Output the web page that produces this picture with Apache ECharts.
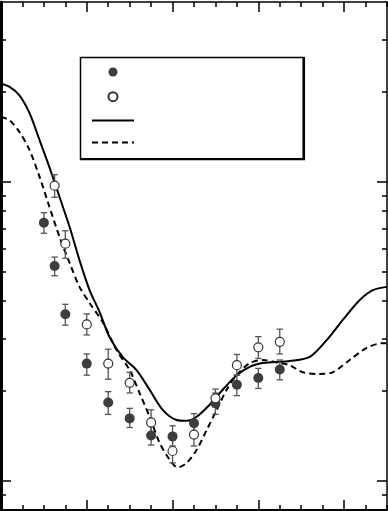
<!DOCTYPE html>
<html><head><meta charset="utf-8">
<script src="https://cdn.jsdelivr.net/npm/echarts@6/dist/echarts.min.js"></script>
<style>html,body{margin:0;padding:0;background:#fff}#c{width:388px;height:511px}</style>
</head><body><div id="c"></div>
<script>
// ---- data (angle in degrees, value on log scale) ----
const filledAngles = [20, 25, 30, 40, 50, 60, 70, 80, 90, 100, 110, 120, 130];
const filledVals   = [7.31, 5.24, 3.61, 2.47, 1.83, 1.62, 1.42, 1.41, 1.56, 1.82, 2.10, 2.21, 2.36];
const filledLow    = [6.74, 4.86, 3.32, 2.26, 1.67, 1.51, 1.32, 1.31, 1.44, 1.67, 1.93, 2.04, 2.18];
const filledHigh   = [7.90, 5.61, 3.90, 2.66, 1.99, 1.75, 1.52, 1.53, 1.68, 1.97, 2.26, 2.38, 2.54];

const openAngles = [25, 30, 40, 50, 60, 70, 80, 90, 100, 110, 120, 130];
const openVals   = [9.72, 6.22, 3.34, 2.47, 2.13, 1.57, 1.26, 1.43, 1.89, 2.44, 2.80, 2.92];
const openLow    = [8.89, 5.56, 3.08, 2.19, 1.97, 1.43, 1.15, 1.31, 1.77, 2.26, 2.57, 2.66];
const openHigh   = [10.58, 6.87, 3.62, 2.76, 2.31, 1.73, 1.37, 1.55, 2.03, 2.65, 3.04, 3.22];

const solidAngles = [0, 4, 8.6, 13.3, 18, 22.6, 27.3, 32, 36.6, 41.3, 46, 50.6, 56.7, 63.2, 69.3, 75.4, 81.9, 86.6, 91.2, 97.3, 103.4, 109.9, 116, 122, 127.6, 134.6, 144, 152.4, 159.4, 167.3, 173.4, 180];
const solidVals   = [21.3, 20.8, 19.5, 17.0, 13.8, 11.2, 8.91, 7.07, 5.48, 4.35, 3.67, 3.03, 2.60, 2.35, 2.02, 1.73, 1.60, 1.59, 1.64, 1.80, 2.02, 2.26, 2.41, 2.48, 2.50, 2.52, 2.60, 2.99, 3.46, 4.03, 4.35, 4.46];

const dashAngles = [0, 4, 8.6, 13.3, 18, 22.6, 27.3, 32, 36.6, 41.3, 47.4, 53.9, 60, 64.6, 69.3, 74, 78.6, 82.4, 86.6, 91.2, 95.9, 100.6, 105.2, 109.9, 116, 122, 129.9, 134.6, 140.7, 148.6, 154.7, 162.6, 170.6, 178, 180];
const dashVals   = [16.5, 16.1, 14.7, 12.8, 10.4, 8.25, 6.55, 5.36, 4.46, 3.94, 3.40, 2.74, 2.35, 1.97, 1.64, 1.34, 1.18, 1.11, 1.15, 1.27, 1.48, 1.73, 2.02, 2.26, 2.48, 2.54, 2.48, 2.44, 2.31, 2.28, 2.31, 2.54, 2.79, 2.89, 2.89];

const xMajorTicks = [0, 40, 80, 120, 160];
const yMajorTicks = [1, 10];
const yMinorTicks = [0.9, 2, 3, 4, 5, 6, 7, 8, 9, 20, 30];
const seriesNames = ['exp-filled', 'exp-open', 'calc-solid', 'calc-dashed'];

// ---- chart ----
const chart = echarts.init(document.getElementById('c'), null, { renderer: 'canvas' });
const yMin = 0.8, yMax = 40, xMin = 0, xMax = 180;
const L = Math.log10;

function xAx(pos, len, custom, lineW) {
  const tick = { show: true, inside: true, length: len, lineStyle: { color: '#000', width: 1.5 } };
  if (custom) tick.customValues = custom;
  return {
    type: 'value', position: pos, min: xMin, max: xMax, interval: 10,
    axisLine: { show: lineW > 0, onZero: false, lineStyle: { color: '#000', width: lineW } },
    axisTick: tick, axisLabel: { show: false }, splitLine: { show: false }
  };
}
function yTickAx(pos, len, vals, lineW) {
  return {
    type: 'value', position: pos, min: L(yMin), max: L(yMax),
    axisLine: { show: lineW > 0, onZero: false, lineStyle: { color: '#000', width: lineW } },
    axisTick: { show: true, inside: true, length: len, customValues: vals.map(L), lineStyle: { color: '#000', width: 1.5 } },
    axisLabel: { show: false }, splitLine: { show: false }
  };
}

function errRender(params, api) {
  const x = api.value(0), lo = api.value(1), hi = api.value(2);
  const p1 = api.coord([x, lo]), p2 = api.coord([x, hi]);
  const w = 3.2;
  const st = { stroke: '#555', lineWidth: 1.3 };
  return {
    type: 'group', children: [
      { type: 'line', shape: { x1: p1[0], y1: p1[1], x2: p2[0], y2: p2[1] }, style: st },
      { type: 'line', shape: { x1: p1[0] - w, y1: p1[1], x2: p1[0] + w, y2: p1[1] }, style: st },
      { type: 'line', shape: { x1: p2[0] - w, y1: p2[1], x2: p2[0] + w, y2: p2[1] }, style: st }
    ]
  };
}

const option = {
  animation: false,
  backgroundColor: '#fff',
  grid: { left: 1, right: 1, top: 2, bottom: 1, containLabel: false },
  xAxis: [
    xAx('bottom', 5, null, 2),
    xAx('bottom', 10, xMajorTicks, 0),
    xAx('top', 5, null, 1.5),
    xAx('top', 10, xMajorTicks, 0)
  ],
  yAxis: [
    { type: 'log', logBase: 10, position: 'left', min: yMin, max: yMax,
      axisLine: { show: true, onZero: false, lineStyle: { color: '#000', width: 3 } },
      axisTick: { show: false }, axisLabel: { show: false }, splitLine: { show: false } },
    yTickAx('left', 10, yMajorTicks, 0),
    yTickAx('left', 5, yMinorTicks, 0),
    yTickAx('right', 10, yMajorTicks, 1.5),
    yTickAx('right', 5, yMinorTicks, 0)
  ],
  legend: {
    orient: 'vertical', left: 91, top: 67.5, itemWidth: 42, itemHeight: 9, itemGap: 14.7,
    data: [
      { name: seriesNames[0] },
      { name: seriesNames[1] },
      { name: seriesNames[2], itemStyle: { opacity: 0 } },
      { name: seriesNames[3], itemStyle: { opacity: 0 } }
    ],
    selectedMode: false, formatter: () => '',
    textStyle: { fontSize: 9, lineHeight: 9 }, padding: 0
  },
  graphic: [
    { type: 'rect', shape: { x: 80.5, y: 57.5, width: 223, height: 101.5 }, style: { fill: 'none', stroke: '#000', lineWidth: 1.5 }, z: 10 },
    { type: 'line', shape: { x1: 303.8, y1: 57, x2: 303.8, y2: 160 }, style: { stroke: '#000', lineWidth: 2.5 }, z: 10 },
    { type: 'line', shape: { x1: 80, y1: 159.2, x2: 305, y2: 159.2 }, style: { stroke: '#000', lineWidth: 2.2 }, z: 10 }
  ],
  series: [
    { name: seriesNames[2], type: 'line', xAxisIndex: 0, yAxisIndex: 0, symbol: 'none', smooth: 0.3,
      lineStyle: { color: '#000', width: 2 }, itemStyle: { color: '#000' }, z: 3,
      data: solidAngles.map((a, i) => [a, solidVals[i]]) },
    { name: seriesNames[3], type: 'line', xAxisIndex: 0, yAxisIndex: 0, symbol: 'none', smooth: 0.3,
      lineStyle: { color: '#000', width: 2, type: [6, 4] }, itemStyle: { color: '#000' }, z: 3,
      data: dashAngles.map((a, i) => [a, dashVals[i]]) },
    { type: 'custom', xAxisIndex: 0, yAxisIndex: 0, renderItem: errRender, z: 4,
      encode: { x: 0, y: [1, 2] }, data: filledAngles.map((a, i) => [a, filledLow[i], filledHigh[i]]) },
    { type: 'custom', xAxisIndex: 0, yAxisIndex: 0, renderItem: errRender, z: 4,
      encode: { x: 0, y: [1, 2] }, data: openAngles.map((a, i) => [a, openLow[i], openHigh[i]]) },
    { name: seriesNames[0], type: 'scatter', xAxisIndex: 0, yAxisIndex: 0, symbol: 'circle', symbolSize: 10,
      itemStyle: { color: '#3d3d3d', opacity: 1 }, z: 5,
      data: filledAngles.map((a, i) => [a, filledVals[i]]) },
    { name: seriesNames[1], type: 'scatter', xAxisIndex: 0, yAxisIndex: 0, symbol: 'circle', symbolSize: 9,
      itemStyle: { color: '#fff', borderColor: '#333', borderWidth: 1.2, opacity: 1 }, z: 5,
      data: openAngles.map((a, i) => [a, openVals[i]]) }
  ]
};
chart.setOption(option);
</script>
</body></html>
